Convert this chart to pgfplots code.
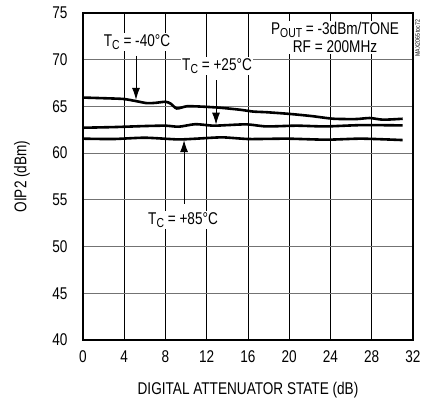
\documentclass[border=0pt]{standalone}
\usepackage{fontspec}
\setmainfont{Liberation Sans}[FakeStretch=0.8]
\usepackage{pgfplots}
\pgfplotsset{compat=1.18}
\usetikzlibrary{arrows.meta}
\newcommand{\sub}[1]{\raisebox{-0.35ex}{\fontsize{13bp}{13bp}\selectfont #1}}
\begin{document}
\begin{tikzpicture}[font=\fontsize{17bp}{18bp}\selectfont]
\begin{axis}[
  scale only axis,
  width=330bp, height=327bp,
  xmin=0, xmax=32, ymin=40, ymax=75,
  xtick={0,4,...,32}, ytick={40,45,...,75},
  /pgf/number format/assume math mode=true,
  major tick length=0pt,
  xmajorgrids, ymajorgrids,
  x grid style={black, line width=0.7bp},
  y grid style={black!55, line width=1bp},
  axis line style={line width=2.6bp},
  xlabel={DIGITAL ATTENUATOR STATE (dB)},
  ylabel={OIP2 (dBm)},
  xticklabel style={yshift=-7bp},
  yticklabel style={xshift=-12bp},
  xlabel style={at={(axis description cs:0.5,-0.153)}, anchor=center},
  ylabel style={at={(axis description cs:-0.185,0.5)}, anchor=center, rotate=0},
  clip=false,
]
\addplot[black, line width=2.6bp, smooth, tension=0.4] coordinates {
(0,65.95) (2,65.88) (3.9,65.8) (5,65.6) (6.2,65.35) (7,65.38) (8,65.5) (8.5,65.3) (9.1,64.78) (10.1,65.02) (11.7,64.97) (13.3,64.86) (15.2,64.65) (16.5,64.45) (17.8,64.38) (19.8,64.22) (21,64.1) (22.3,63.95) (24.3,63.68) (26.5,63.65) (27.8,63.76) (29.1,63.58) (31,63.68)
};
\addplot[black, line width=2.6bp, smooth, tension=0.4] coordinates {
(0,62.72) (3,62.79) (6,62.9) (8,62.94) (9.3,62.83) (10.9,63.1) (12.6,62.94) (14,63.0) (15.9,63.08) (17.8,62.86) (20.7,62.94) (23.5,62.86) (27,63.0) (31,62.97)
};
\addplot[black, line width=2.6bp, smooth, tension=0.4] coordinates {
(0,61.55) (2.9,61.51) (6,61.65) (9.2,61.47) (11,61.55) (13.5,61.69) (16.1,61.51) (19.8,61.55) (23.6,61.44) (27,61.55) (31,61.4)
};
% annotations
\node[fill=white, inner sep=1.5bp] at (axis cs:5.24,71.9) {T\sub{C} = -40°C};
\draw[-{Latex[length=12bp,width=8bp]}, line width=1bp] (axis cs:5.14,70.4) -- (axis cs:5.14,65.7);
\node[fill=white, inner sep=1.5bp] at (axis cs:13.0,69.33) {T\sub{C} = +25°C};
\draw[-{Latex[length=12bp,width=8bp]}, line width=1bp] (axis cs:12.9,67.8) -- (axis cs:12.9,63.05);
\node[fill=white, inner sep=1.5bp] at (axis cs:9.7,52.84) {T\sub{C} = +85°C};
\draw[-{Latex[length=12bp,width=8bp]}, line width=1bp] (axis cs:9.8,54.6) -- (axis cs:9.8,61.4);
\node[fill=white, inner sep=1.5bp, align=center, font=\fontsize{17bp}{17.5bp}\selectfont] at (axis cs:24.44,72.4) {P\sub{OUT} = -3dBm/TONE\\RF = 200MHz};
\node[rotate=90, anchor=east, font=\fontsize{6.5bp}{6.5bp}\selectfont, inner sep=0pt] at (axis cs:32.45,74.3) {MAX2065 toc72};
\coordinate (O) at (rel axis cs:0,0);
\end{axis}
\pgfresetboundingbox
\path (O) ++(-83bp,-60bp) rectangle ++(422bp,400bp);
\end{tikzpicture}
\end{document}
